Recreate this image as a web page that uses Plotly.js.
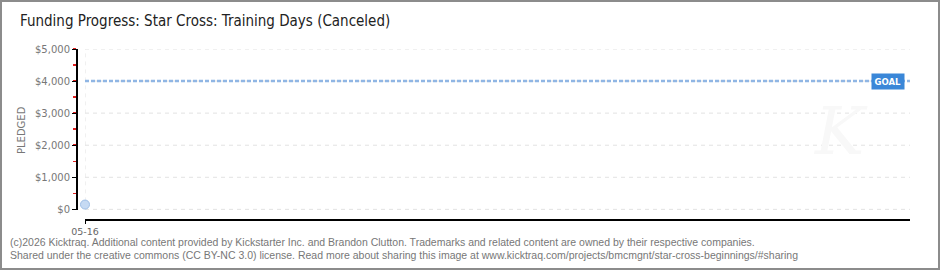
<!DOCTYPE html>
<html>
<head>
<meta charset="utf-8">
<script src="https://cdn.plot.ly/plotly-3.0.1.min.js"></script>
<style>
  html, body { margin: 0; padding: 0; background: #fff; }
  #wrap { position: relative; width: 940px; height: 270px; }
  #chart { width: 940px; height: 270px; }
  #frame { position: absolute; left: 0; top: 0; width: 940px; height: 270px; box-sizing: border-box; border: 2px solid #8c8c8c; pointer-events: none; }
</style>
</head>
<body>
<div id="wrap"><div id="chart"></div><div id="frame"></div></div>
<script>
const titleText = "Funding Progress: Star Cross: Training Days (Canceled)";
const dates = ["2026-05-16"];
const pledged = [150];
const tickDates = ["2026-05-16"];
const tickLabels = ["05-16"];
const campaignStart = "2026-05-16";
const campaignEnd = "2026-06-15";
const goalAmount = 4000;
const yTicks = [0, 1000, 2000, 3000, 4000, 5000];
const yTickLabels = ["$0", "$1,000", "$2,000", "$3,000", "$4,000", "$5,000"];
const footer1 = "(c)2026 Kicktraq. Additional content provided by Kickstarter Inc. and Brandon Clutton. Trademarks and related content are owned by their respective companies.";
const footer2 = "Shared under the creative commons (CC BY-NC 3.0) license. Read more about sharing this image at www.kicktraq.com/projects/bmcmgnt/star-cross-beginnings/#sharing";

const W = 940, H = 270;
const L = 76, R = 30, T = 49, B = 51;
const PW = W - L - R, PH = H - T - B;
const px = x => (x - L) / PW;
const py = y => (H - B - y) / PH;

const traces = [
  {
    x: [campaignStart, campaignEnd],
    y: [goalAmount, goalAmount],
    mode: "lines",
    line: { color: "#90b6e4", width: 2.5, dash: "4px,2px" },
    hoverinfo: "skip",
    cliponaxis: false
  },
  {
    x: dates,
    y: pledged,
    mode: "markers",
    marker: { size: 9, color: "#c6daf3", line: { color: "#9fbfe6", width: 1 } },
    cliponaxis: false
  }
];

const gridStyle = { color: "#e2e2e2", width: 1, dash: "4px,4px" };

const layout = {
  width: W, height: H,
  margin: { l: L, r: R, t: T, b: B, pad: 0 },
  paper_bgcolor: "#ffffff",
  plot_bgcolor: "#ffffff",
  showlegend: false,
  title: {
    text: titleText,
    xref: "container", yref: "container",
    x: 20 / W, xanchor: "left",
    y: 1 - 21 / H, yanchor: "middle",
    font: { family: "DejaVu Sans Condensed, DejaVu Sans, sans-serif", size: 15, color: "#222" }
  },
  xaxis: {
    type: "date",
    domain: [px(85), 1],
    anchor: "free",
    position: 0,
    range: [campaignStart, campaignEnd],
    tickmode: "array",
    tickvals: tickDates,
    ticktext: tickLabels,
    showline: true, linecolor: "#000", linewidth: 1.5,
    ticks: "outside", ticklen: 3, tickcolor: "#000",
    tickfont: { family: "DejaVu Sans", size: 9.5, color: "#666" },
    showgrid: false,
    zeroline: false,
    fixedrange: true
  },
  yaxis: {
    domain: [py(210), 1],
    anchor: "free",
    position: 0,
    range: [-20, 5000],
    tickmode: "array",
    tickvals: yTicks,
    ticktext: yTickLabels,
    showline: true, linecolor: "#000", linewidth: 1.5,
    ticks: "outside", ticklen: 4, tickcolor: "#000",
    tickfont: { family: "DejaVu Sans", size: 10, color: "#777" },
    showgrid: false,
    zeroline: false,
    minor: { dtick: 500, tick0: 500, ticks: "outside", ticklen: 3, tickwidth: 1.5, tickcolor: "#e02020", showgrid: false },
    fixedrange: true
  },
  shapes: [
    ...yTicks.map(v => ({
      type: "line", xref: "x domain", yref: "y",
      x0: 0, x1: 1, y0: v, y1: v,
      line: gridStyle, layer: "below"
    })),
    ...tickDates.map(d => ({
      type: "line", xref: "x", yref: "y",
      x0: d, x1: d, y0: 0, y1: 5000,
      line: gridStyle, layer: "below"
    }))
  ],
  annotations: [
    {
      x: campaignEnd, y: goalAmount, xref: "x", yref: "y",
      text: "<b>GOAL</b>", showarrow: false,
      xanchor: "right", yanchor: "middle", xshift: -5,
      bgcolor: "#3a87d8", borderpad: 2.5,
      font: { family: "DejaVu Sans", size: 8.5, color: "#fff" }
    },
    {
      x: px(21), y: py(130), xref: "paper", yref: "paper",
      text: "PLEDGED", textangle: -90, showarrow: false,
      xanchor: "center", yanchor: "middle",
      font: { family: "DejaVu Sans", size: 10, color: "#777" }
    },
    {
      x: px(870), y: py(172), xref: "paper", yref: "paper",
      text: "<i>K</i>", showarrow: false,
      font: { family: "DejaVu Serif", size: 66, color: "#f8f8f8" }
    },
    {
      x: px(8), y: py(242), xref: "paper", yref: "paper",
      text: footer1, showarrow: false, xanchor: "left", yanchor: "middle",
      font: { family: "Liberation Sans", size: 10.5, color: "#777" }
    },
    {
      x: px(8), y: py(255), xref: "paper", yref: "paper",
      text: footer2, showarrow: false, xanchor: "left", yanchor: "middle",
      font: { family: "Liberation Sans", size: 10.5, color: "#777" }
    }
  ]
};

Plotly.newPlot("chart", traces, layout, { displayModeBar: false, staticPlot: true });
</script>
</body>
</html>
